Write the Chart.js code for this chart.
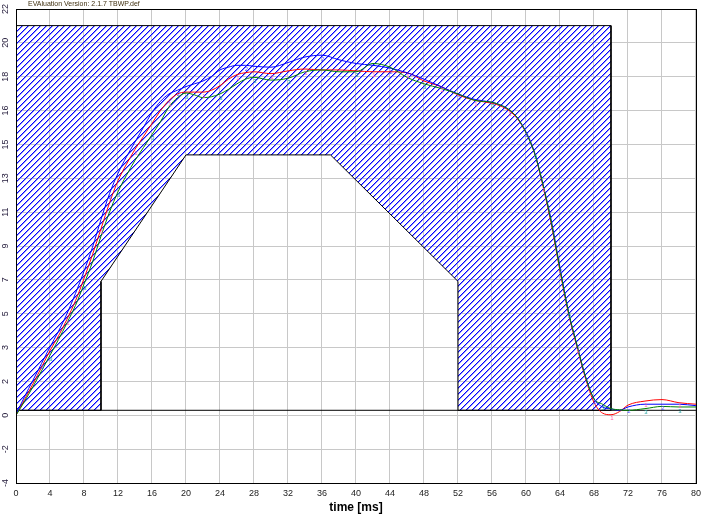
<!DOCTYPE html>
<html>
<head>
<meta charset="utf-8">
<script src="https://cdn.jsdelivr.net/npm/chart.js@4.4.1/dist/chart.umd.min.js"></script>
<style>
    html, body { margin: 0; padding: 0; background: #fff; }
    #wrap { width: 706px; height: 515px; }
</style>
</head>
<body>
<div id="wrap"><canvas id="chart" width="706" height="515"></canvas></div>
<script>
// time axis [ms] shared by the three measured curves
const times = [0, 1, 2, 3, 4, 5, 6, 7, 8, 9, 10, 11, 12, 13, 14, 15, 16, 17, 18, 19, 20,
    21, 22, 23, 24, 25, 26, 27, 28, 30, 32, 34, 36, 38, 40, 42, 44, 46, 48, 50, 52, 54, 56,
    57, 58, 59, 60, 61, 62, 63, 64, 65, 66, 67, 68, 69, 70, 71, 72, 74, 76, 78, 80];

const redValues = [0, 0.85, 1.7, 2.6, 3.5, 4.3, 5.2, 6.2, 7.4, 8.7, 10.1, 11.5, 12.7, 13.6, 14.4, 15.1, 15.8, 16.5, 17.05, 17.4, 17.5,
    17.5, 17.5, 17.6, 17.85, 18.2, 18.45, 18.55, 18.6, 18.5, 18.65, 18.75, 18.7, 18.7, 18.65, 18.6, 18.6, 18.55, 18.1, 17.8, 17.35, 17.05, 16.9,
    16.75, 16.5, 16.05, 15.3, 14.2, 12.4, 10.3, 7.8, 5.5, 3.7, 2.0, 0.7, 0.12, 0.03, 0.2, 0.55, 0.77, 0.85, 0.68, 0.6];

const blueValues = [0.05, 1.0, 1.9, 2.8, 3.7, 4.55, 5.5, 6.6, 7.8, 9.1, 10.6, 12.0, 13.1, 14.0, 14.8, 15.6, 16.4, 17.0, 17.4, 17.6, 17.8,
    17.95, 18.1, 18.35, 18.7, 18.85, 18.95, 18.95, 18.9, 18.85, 19.1, 19.4, 19.5, 19.25, 19.05, 18.95, 18.8, 18.55, 18.2, 17.8, 17.4, 17.1, 16.95,
    16.8, 16.55, 16.1, 15.35, 14.25, 12.5, 10.5, 8.0, 5.6, 3.8, 2.1, 0.9, 0.45, 0.35, 0.27, 0.45, 0.6, 0.6, 0.6, 0.52];

const greenValues = [0, 0.75, 1.55, 2.4, 3.25, 4.1, 5.0, 5.95, 7.1, 8.3, 9.7, 11.0, 12.1, 13.0, 13.8, 14.5, 15.2, 15.9, 16.7, 17.2, 17.45,
    17.35, 17.2, 17.25, 17.4, 17.65, 17.95, 18.2, 18.3, 18.15, 18.25, 18.6, 18.7, 18.6, 18.6, 19.05, 18.85, 18.3, 17.95, 17.7, 17.4, 17.05, 16.95,
    16.8, 16.55, 16.1, 15.3, 14.2, 12.5, 10.4, 7.9, 5.6, 3.8, 2.1, 0.9, 0.6, 0.36, 0.3, 0.27, 0.36, 0.48, 0.45, 0.45];

// tolerance mask (hatched area) and lower limit line
const maskX = [0, 0, 70, 70, 52, 52, 37, 20, 10, 10, 0];
const maskY = [0.27, 21.1, 21.1, 0.27, 0.27, 7.25, 14.1, 14.1, 7.25, 0.27, 0.27];
const limitX = [0, 80];
const limitY = [0.27, 0.27];

// curve id marks (times where the small numbers sit)
const redMarks = [6, 10, 14, 18, 22, 26, 30, 34, 42, 46, 50, 54, 58, 62, 66, 70, 74, 78];
const blueMarks = [3, 11, 19, 27, 36, 44, 52, 60, 64, 68, 72, 76];
const greenMarks = [4, 8, 12, 16, 20, 24, 28, 32, 40, 48, 56, 61, 65, 69, 74, 78];

// y axis: 12 steps from 0 to 22, labels as printed in the original
const yStep = 22 / 12;
const yTickLabels = ['-4', '-2', '0', '2', '3', '5', '7', '9', '11', '13', '15', '16', '18', '20', '22'];
const titleText = 'EVAluation Version: 2.1.7 TBWP.def';

function pairs(xs, ys) {
    return xs.map((x, i) => ({ x: x, y: ys[i] }));
}

const canvas = document.getElementById('chart');
const ctx = canvas.getContext('2d');

// blue "/" hatch with a soft edge pixel
function hatchPattern() {
    const c = document.createElement('canvas');
    c.width = 6;
    c.height = 6;
    const g = c.getContext('2d');
    for (let i = 0; i < 6; i++) {
        g.fillStyle = '#0000ff';
        g.fillRect(i, 5 - i, 1, 1);
        g.fillStyle = '#9090ff';
        g.fillRect((i + 1) % 6, 5 - i, 1, 1);
    }
    return ctx.createPattern(c, 'repeat');
}

const decorPlugin = {
    id: 'decor',
    afterDatasetsDraw(chart) {
        const c = chart.ctx;
        const xs = chart.scales.x, ys = chart.scales.y;
        const sets = [
            [redMarks, redValues, '1', '#ff60b0'],
            [blueMarks, blueValues, '2', '#5050ff'],
            [greenMarks, greenValues, '3', '#20a0a0']
        ];
        c.save();
        c.font = '6px "Liberation Sans", Arial';
        c.textAlign = 'center';
        c.textBaseline = 'top';
        sets.forEach(([marks, vals, txt, col]) => {
            c.fillStyle = col;
            marks.forEach(t => {
                const i = times.indexOf(t);
                if (i < 0) return;
                c.fillText(txt, xs.getPixelForValue(t) + 1, ys.getPixelForValue(vals[i]) + 1);
            });
        });
        c.restore();
    },
    afterDraw(chart) {
        const c = chart.ctx;
        const a = chart.chartArea;
        const ys = chart.scales.y;
        c.save();
        // frame
        c.strokeStyle = '#000';
        c.lineWidth = 1;
        c.strokeRect(Math.round(a.left) + 0.5, Math.round(a.top) + 0.5,
            Math.round(a.right - a.left), Math.round(a.bottom - a.top));
        // rotated y labels
        c.font = '9px "Liberation Sans", Arial';
        c.fillStyle = '#201838';
        c.textAlign = 'center';
        c.textBaseline = 'middle';
        ys.ticks.forEach((t, i) => {
            c.save();
            c.translate(6, ys.getPixelForValue(t.value));
            c.rotate(-Math.PI / 2);
            c.fillText(yTickLabels[i], 0, 0);
            c.restore();
        });
        // file caption
        c.font = '7px "Liberation Sans", Arial';
        c.fillStyle = '#403010';
        c.textAlign = 'left';
        c.fillText(titleText, 28, 4);
        c.restore();
    }
};

const lineStyle = {
    borderWidth: 1,
    pointRadius: 0,
    fill: false,
    cubicInterpolationMode: 'monotone'
};

new Chart(ctx, {
    type: 'line',
    data: {
        datasets: [
            Object.assign({ label: 'green', data: pairs(times, greenValues), borderColor: '#008000', order: 1 }, lineStyle),
            Object.assign({ label: 'blue', data: pairs(times, blueValues), borderColor: '#0000ff', order: 2 }, lineStyle),
            Object.assign({ label: 'red', data: pairs(times, redValues), borderColor: '#ff0000', order: 3 }, lineStyle),
            {
                label: 'limit',
                data: pairs(limitX, limitY),
                borderColor: '#000',
                borderWidth: 1,
                pointRadius: 0,
                fill: false,
                order: 4
            },
            {
                label: 'mask',
                data: pairs(maskX, maskY),
                borderColor: '#000',
                borderWidth: 1,
                backgroundColor: hatchPattern(),
                fill: 'shape',
                pointRadius: 0,
                tension: 0,
                order: 5
            }
        ]
    },
    options: {
        responsive: false,
        animation: false,
        layout: { padding: { top: 9, right: 10, left: 0, bottom: 0 } },
        plugins: {
            legend: { display: false },
            tooltip: { enabled: false }
        },
        scales: {
            x: {
                type: 'linear',
                min: 0,
                max: 80,
                ticks: {
                    stepSize: 4,
                    autoSkip: false,
                    maxRotation: 0,
                    padding: 5,
                    color: '#222',
                    font: { size: 9, family: '"Liberation Sans", Arial' }
                },
                grid: { color: '#c8c8c8', drawTicks: false },
                border: { color: '#000' },
                title: {
                    display: true,
                    text: 'time [ms]',
                    color: '#000',
                    padding: 0,
                    font: { size: 12, weight: 'bold', family: '"Liberation Sans", Arial' }
                },
                afterFit: function(scale) { scale.height = 32; }
            },
            y: {
                type: 'linear',
                min: -2 * yStep,
                max: 22,
                afterBuildTicks: function(scale) {
                    scale.ticks = yTickLabels.map((l, i) => ({ value: (i - 2) * yStep }));
                },
                ticks: { display: false },
                grid: { color: '#c8c8c8', drawTicks: false },
                border: { color: '#000' },
                afterFit: function(scale) { scale.width = 16; }
            }
        }
    },
    plugins: [decorPlugin]
});
</script>
</body>
</html>
